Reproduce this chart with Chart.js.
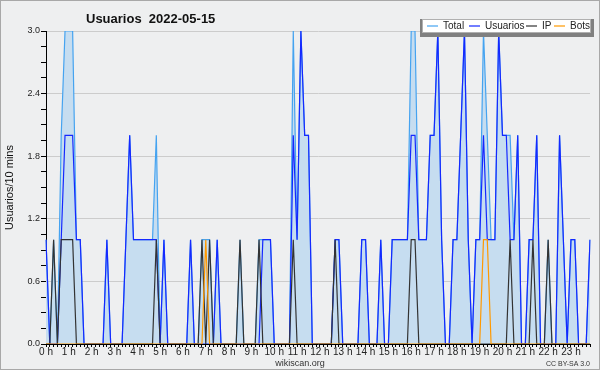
<!DOCTYPE html>
<html>
<head>
<meta charset="utf-8">
<script src="https://cdn.jsdelivr.net/npm/chart.js@4.4.0/dist/chart.umd.min.js"></script>
<style>
  html, body { margin: 0; padding: 0; background: #eeeff0; }
  canvas { display: block; }
</style>
</head>
<body>
<canvas id="chart" width="600" height="370"></canvas>
<script>
// --- data: one value every 10 minutes, 144 slots ---
const hourLabels = ['0 h','1 h','2 h','3 h','4 h','5 h','6 h','7 h','8 h','9 h','10 h','11 h',
                    '12 h','13 h','14 h','15 h','16 h','17 h','18 h','19 h','20 h','21 h','22 h','23 h'];
const yTicks = [0, 0.6, 1.2, 1.8, 2.4, 3.0];

const total = [
  1,0,1,0,2,3,3,3,1,1,0,0,  0,0,0,0,1,0,0,0,0,1,2,1,
  1,1,1,1,1,2,0,1,0,0,0,0,  0,0,1,0,0,1,1,1,0,1,0,0,
  0,0,0,1,0,0,0,0,1,1,1,1,  0,0,0,0,0,3,1,3,2,2,0,0,
  0,0,0,0,1,1,0,0,0,0,0,1,  1,0,0,0,1,0,0,1,1,1,1,1,
  3,3,1,1,1,2,2,3,1,0,0,1,  1,2,3,1,0,1,1,3,2,1,1,3,
  2,2,2,1,2,0,0,1,1,2,0,0,  1,0,0,2,1,0,1,1,0,0,0,1
];
const usuarios = [
  1,0,0,0,1,2,2,2,1,1,0,0,  0,0,0,0,1,0,0,0,0,1,2,1,
  1,1,1,1,1,1,0,1,0,0,0,0,  0,0,1,0,0,0,0,0,0,1,0,0,
  0,0,0,0,0,0,0,0,0,1,1,1,  0,0,0,0,0,2,1,3,2,2,0,0,
  0,0,0,0,1,1,0,0,0,0,0,1,  1,0,0,0,1,0,0,1,1,1,1,1,
  2,2,1,1,1,2,2,3,1,0,0,1,  1,2,3,1,0,1,1,2,1,1,1,3,
  2,2,1,1,2,0,0,1,1,2,0,0,  0,0,0,2,1,0,1,1,0,0,0,1
];
const ip = [
  0,0,1,0,1,1,1,1,0,0,0,0,  0,0,0,0,0,0,0,0,0,0,0,0,
  0,0,0,0,0,1,0,0,0,0,0,0,  0,0,0,0,0,1,0,1,0,0,0,0,
  0,0,0,1,0,0,0,0,1,0,0,0,  0,0,0,0,0,1,0,0,0,0,0,0,
  0,0,0,0,1,0,0,0,0,0,0,0,  0,0,0,0,0,0,0,0,0,0,0,0,
  1,1,0,0,0,0,0,0,0,0,0,0,  0,0,0,0,0,0,0,0,0,0,0,0,
  0,0,1,0,0,0,0,0,1,0,0,0,  1,0,0,0,0,0,0,0,0,0,0,0
];
const bots = [
  0,0,0,0,0,0,0,0,0,0,0,0,  0,0,0,0,0,0,0,0,0,0,0,0,
  0,0,0,0,0,0,0,0,0,0,0,0,  0,0,0,0,0,0,1,0,0,0,0,0,
  0,0,0,0,0,0,0,0,0,0,0,0,  0,0,0,0,0,0,0,0,0,0,0,0,
  0,0,0,0,0,0,0,0,0,0,0,0,  0,0,0,0,0,0,0,0,0,0,0,0,
  0,0,0,0,0,0,0,0,0,0,0,0,  0,0,0,0,0,0,0,1,1,0,0,0,
  0,0,0,0,0,0,0,0,0,0,0,0,  0,0,0,0,0,0,0,0,0,0,0,0
];

const FONT = "'Liberation Sans', Arial, sans-serif";
const BG = '#eeeff0';

// one category per 10 min slot, labelled on the hour
const slotLabels = total.map((v, i) => i % 6 === 0 ? hourLabels[i / 6] : '');

const series = [
  { label: 'Total',    data: total,    color: '#45a3f0' },
  { label: 'Usuarios', data: usuarios, color: '#1428ff' },
  { label: 'IP',       data: ip,       color: '#333333' },
  { label: 'Bots',     data: bots,     color: '#ff9900' }
];
// legend item x positions (line start)
const legendX = [427, 469, 526, 554];

// background, title, legend and footer texts
const decor = {
  id: 'decor',
  beforeDraw(chart) {
    const c = chart.ctx;
    c.save();
    c.fillStyle = BG;
    c.fillRect(0, 0, chart.width, chart.height);
    c.restore();
  },
  afterDraw(chart) {
    const c = chart.ctx;
    const area = chart.chartArea;
    c.save();

    // title
    c.fillStyle = '#111';
    c.font = "bold 13px " + FONT;
    c.textBaseline = 'alphabetic';
    c.textAlign = 'left';
    c.fillText('Usuarios  2022-05-15', 86, 23);

    // y axis title
    c.save();
    c.translate(10, (area.top + area.bottom) / 2);
    c.rotate(-Math.PI / 2);
    c.textAlign = 'center';
    c.textBaseline = 'middle';
    c.font = "11px " + FONT;
    c.fillStyle = '#111';
    c.fillText('Usuarios/10 mins', 0, 0);
    c.restore();

    // legend box: thin top edge, heavy grey frame on the other sides
    const lx = 422, ly = 19, lw = 169, lh = 14;
    c.fillStyle = '#808080';
    c.fillRect(lx - 2, ly, lw + 5, lh + 4);
    c.fillStyle = '#ffffff';
    c.fillRect(lx, ly, lw, lh);
    c.strokeStyle = '#b0b0b0';
    c.lineWidth = 1;
    c.strokeRect(lx + 0.5, ly + 0.5, lw - 1, lh - 1);
    c.font = "10px " + FONT;
    c.textBaseline = 'middle';
    c.textAlign = 'left';
    const ymid = ly + lh / 2;
    series.forEach((s, i) => {
      const x = legendX[i];
      c.strokeStyle = s.color;
      c.lineWidth = 1.2;
      c.beginPath();
      c.moveTo(x, ymid);
      c.lineTo(x + 11, ymid);
      c.stroke();
      c.fillStyle = '#222';
      c.fillText(s.label, x + 16, ymid + 0.5);
    });

    // footer
    c.fillStyle = '#333';
    c.textAlign = 'center';
    c.textBaseline = 'alphabetic';
    c.font = "9px " + FONT;
    c.fillText('wikiscan.org', 300, 366);
    c.textAlign = 'right';
    c.font = "7px " + FONT;
    c.fillText('CC BY-SA 3.0', 590, 366);

    // outer frame
    c.strokeStyle = '#a8a8a8';
    c.lineWidth = 1;
    c.strokeRect(0.5, 0.5, chart.width - 1, chart.height - 1);
    c.restore();
  }
};

const ctx = document.getElementById('chart').getContext('2d');

const chart = new Chart(ctx, {
  type: 'line',
  data: {
    labels: slotLabels,
    datasets: series.map((s, i) => ({
      label: s.label,
      data: s.data,
      borderColor: s.color,
      backgroundColor: '#c6ddf0',
      borderWidth: 1.2,
      pointRadius: 0,
      tension: 0,
      fill: i === 0 ? 'origin' : false,
      order: 4 - i
    }))
  },
  options: {
    responsive: false,
    animation: false,
    devicePixelRatio: 1,
    layout: { padding: { top: 31, right: 10, left: 0, bottom: 0 } },
    plugins: {
      legend: { display: false },
      title: { display: false },
      tooltip: { enabled: false }
    },
    scales: {
      x: {
        type: 'category',
        offset: false,
        afterFit: scale => { scale.height = 26; },
        grid: {
          drawOnChartArea: false,
          drawTicks: true,
          tickLength: 3,
          tickColor: '#000'
        },
        border: { display: true, color: '#000', width: 1 },
        ticks: {
          autoSkip: false,
          maxRotation: 0,
          padding: -1,
          color: '#222',
          font: { family: FONT, size: 10 }
        }
      },
      y: {
        min: 0,
        max: 3,
        afterFit: scale => { scale.width = 46; },
        // minor ticks every 0.15, labels only on the 0.6 steps
        afterBuildTicks: scale => {
          const t = [];
          for (let k = 0; k <= 20; k++) t.push({ value: +(k * 0.15).toFixed(2) });
          scale.ticks = t;
        },
        grid: {
          color: c => yTicks.some(v => Math.abs(v - c.tick.value) < 1e-6) ? '#cccccc' : 'rgba(0,0,0,0)',
          tickColor: '#000',
          tickLength: 5
        },
        border: { display: true, color: '#000', width: 1 },
        ticks: {
          padding: 1,
          color: '#222',
          font: { family: FONT, size: 9 },
          callback: v => yTicks.some(t => Math.abs(t - v) < 1e-6) ? v.toFixed(1) : ''
        }
      }
    }
  },
  plugins: [decor]
});
</script>
</body>
</html>
